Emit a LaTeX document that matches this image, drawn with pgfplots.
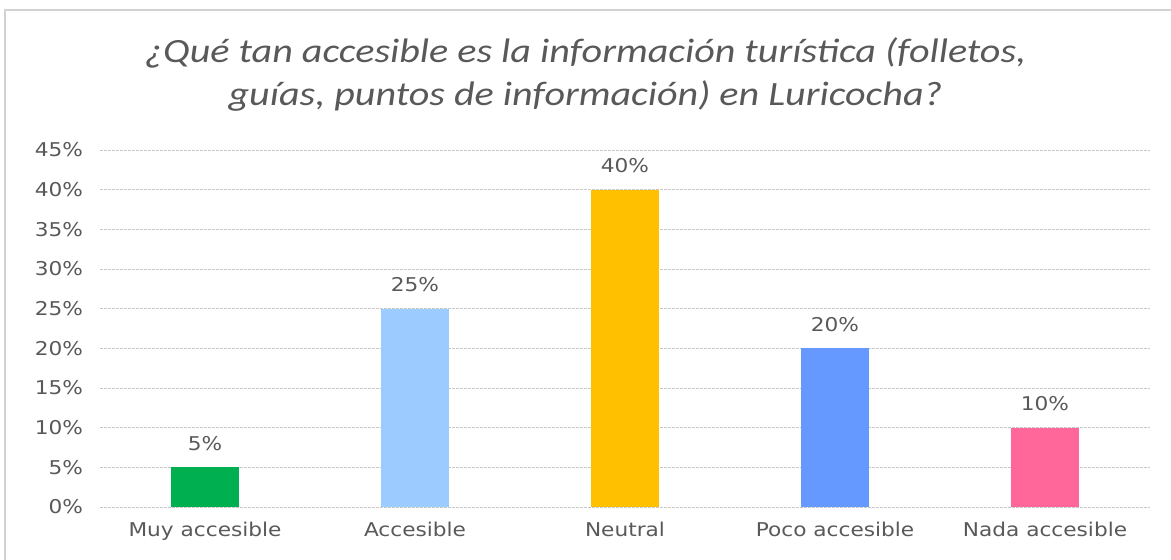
\documentclass[border=0pt]{standalone}
\usepackage{pgfplots}
\pgfplotsset{compat=1.18}
\usepackage{fontspec}
\setmainfont[FakeStretch=1.14]{DejaVu Sans}
\newfontfamily\titlefont[FakeStretch=1.18]{Carlito}
\definecolor{txt}{RGB}{89,89,89}
\definecolor{gridc}{RGB}{200,200,200}
\definecolor{cverde}{RGB}{0,176,80}
\definecolor{ccel}{RGB}{155,203,255}
\definecolor{camar}{RGB}{255,192,0}
\definecolor{cazul}{RGB}{102,153,255}
\definecolor{crosa}{RGB}{255,102,153}

\begin{document}
\begin{tikzpicture}
\useasboundingbox (0,0) rectangle (585.5pt,279.5pt);
\draw[gray!35, line width=0.8pt] (2.5pt,-1pt) -- (2.5pt,274.5pt) -- (590pt,274.5pt);
\node[font=\titlefont\itshape\fontsize{17}{21.5}\selectfont, text=txt, align=center]
  at (292.75pt,242pt) {¿Qué tan accesible es la información turística (folletos,\\guías, puntos de información) en Luricocha?};
\begin{axis}[
    at={(50pt,26pt)}, anchor=south west,
    scale only axis,
    width=525pt, height=178.5pt,
    xmin=-0.5, xmax=4.5,
    ymin=0, ymax=45,
    ytick={0,5,...,45},
    xtick={0,1,2,3,4},
    xticklabels={Muy accesible, Accesible, Neutral, Poco accesible, Nada accesible},
    ybar, bar width=34pt, bar shift=0pt,
    axis line style={draw=none},
    axis x line*=bottom,
    major tick length=0pt,
    ymajorgrids,
    grid style={gridc, dashed, line width=0.5pt, dash pattern=on 1.5pt off 0.5pt},
    /pgf/number format/assume math mode=true,
    yticklabel={\pgfmathprintnumber{\tick}\%},
    tick label style={font=\fontsize{9.5}{11}\selectfont, text=txt},
    y tick label style={xshift=-5pt},
    x tick label style={yshift=-4pt},
    nodes near coords={\pgfmathprintnumber{\pgfplotspointmeta}\%},
    every node near coord/.append style={font=\fontsize{9.5}{11}\selectfont, text=txt, yshift=5pt},
    clip=false,
]
\addplot[fill=cverde, draw=none] coordinates {(0,5)};
\addplot[fill=ccel, draw=none] coordinates {(1,25)};
\addplot[fill=camar, draw=none] coordinates {(2,40)};
\addplot[fill=cazul, draw=none] coordinates {(3,20)};
\addplot[fill=crosa, draw=none] coordinates {(4,10)};
\end{axis}
\end{tikzpicture}
\end{document}
